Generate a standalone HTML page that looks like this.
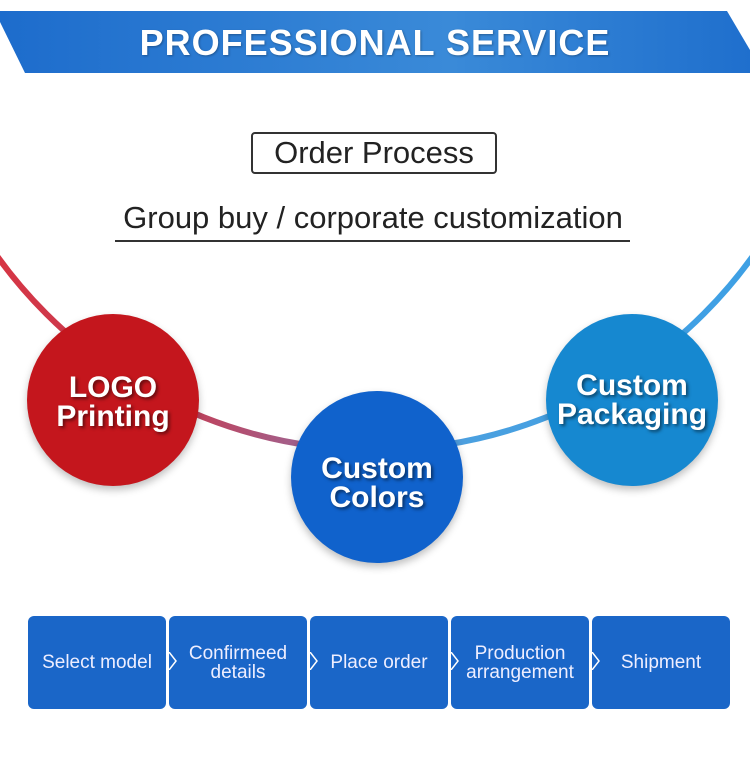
<!DOCTYPE html>
<html><head><style>
body{margin:0;width:750px;height:778px;background:#fff;position:relative;overflow:hidden;font-family:"Liberation Sans",Arial,sans-serif}
.ban{position:absolute;left:0;top:0}
.t{position:absolute;left:0;width:750px;text-align:center}
.c{position:absolute;border-radius:50%;display:flex;align-items:center;justify-content:center;text-align:center;color:#fff;font-weight:bold;font-size:30px;line-height:29px;text-shadow:2px 2px 3px rgba(0,0,0,.5);box-shadow:0 4px 8px rgba(0,0,0,.25);box-sizing:border-box}
.b{position:absolute;top:616px;width:138px;height:93px;background:#1a66c8;border-radius:6px;color:#eef;font-size:19px;line-height:19px;display:flex;align-items:center;justify-content:center;text-align:center}
.ch{position:absolute;top:652px;width:8px;height:18px}
</style></head><body>
<svg class="ban" width="750" height="778">
<defs>
<linearGradient id="bg" x1="0" x2="1"><stop offset="0" stop-color="#1d6ccc"/><stop offset=".6" stop-color="#3a8ad8"/><stop offset="1" stop-color="#1f6fcd"/></linearGradient>
<linearGradient id="ag" x1="0" x2="1"><stop offset="0" stop-color="#e0303a"/><stop offset=".3" stop-color="#c0405a"/><stop offset=".45" stop-color="#9a6a9a"/><stop offset=".6" stop-color="#4aa0e0"/><stop offset="1" stop-color="#3aa0e6"/></linearGradient>
</defs>
<polygon points="0,11 727,11 750,50 750,73 25,73 0,22" fill="url(#bg)"/>
<circle cx="375" cy="-15" r="465" fill="none" stroke="url(#ag)" stroke-width="6"/>
</svg>
<div class="t" style="top:22px;color:#fff;font-size:36px;font-weight:bold;letter-spacing:1px;text-shadow:1px 1px 2px rgba(0,0,0,.3)">PROFESSIONAL SERVICE</div>
<div style="position:absolute;left:251px;top:132px;width:242px;height:38px;border:2px solid #333;border-radius:4px;font-size:31px;line-height:38px;text-align:center;color:#222">Order Process</div>
<div class="t" style="top:200px;font-size:31px;color:#222;left:-2px">Group buy / corporate customization</div>
<div style="position:absolute;left:115px;top:240px;width:515px;height:2px;background:#333"></div>
<div class="c" style="left:27px;top:314px;width:172px;height:172px;background:#c4161d;padding-top:4px">LOGO<br>Printing</div>
<div class="c" style="left:291px;top:391px;width:172px;height:172px;background:#1062cc;padding-top:12px">Custom<br>Colors</div>
<div class="c" style="left:546px;top:314px;width:172px;height:172px;background:#1688d0">Custom<br>Packaging</div>
<div class="b" style="left:28px">Select model</div>
<div class="b" style="left:169px">Confirmeed<br>details</div>
<div class="b" style="left:310px">Place order</div>
<div class="b" style="left:451px">Production<br>arrangement</div>
<div class="b" style="left:592px">Shipment</div>
<svg class="ch" style="left:169px" viewBox="0 0 8 18"><polyline points="0,0 7,9 0,18" fill="none" stroke="#fff" stroke-width="1.5"/></svg>
<svg class="ch" style="left:310px" viewBox="0 0 8 18"><polyline points="0,0 7,9 0,18" fill="none" stroke="#fff" stroke-width="1.5"/></svg>
<svg class="ch" style="left:451px" viewBox="0 0 8 18"><polyline points="0,0 7,9 0,18" fill="none" stroke="#fff" stroke-width="1.5"/></svg>
<svg class="ch" style="left:592px" viewBox="0 0 8 18"><polyline points="0,0 7,9 0,18" fill="none" stroke="#fff" stroke-width="1.5"/></svg>
</body></html>
